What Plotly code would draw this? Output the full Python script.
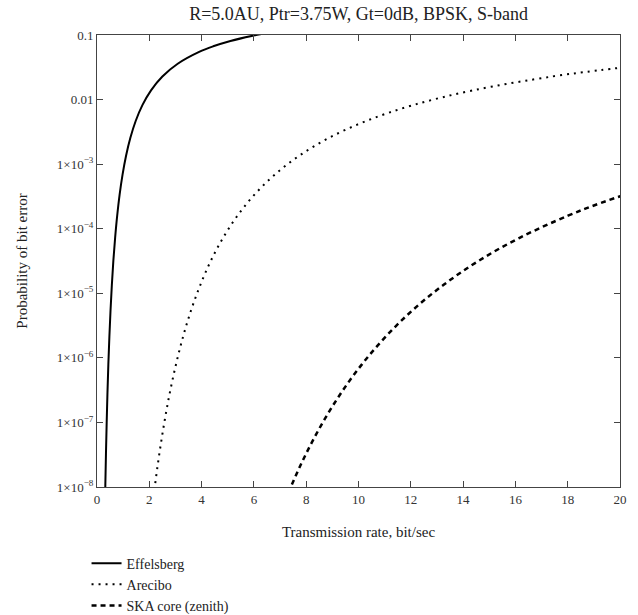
import plotly.graph_objects as go

# Effelsberg
eff_rate = [0.297, 0.319, 0.343, 0.370, 0.400, 0.434, 0.473, 0.517, 0.567, 0.625, 0.693, 0.772,
            0.865, 0.977, 1.111, 1.276, 1.479, 1.736, 2.066, 2.5, 3.086, 3.906, 4.444, 5.102,
            5.917, 6.4]
eff_pb = [3.32e-9, 1.07e-8, 3.33e-8, 9.96e-8, 2.87e-7, 7.93e-7, 2.11e-6, 5.41e-6, 1.33e-5,
          3.17e-5, 7.23e-5, 1.59e-4, 3.37e-4, 6.87e-4, 1.35e-3, 2.56e-3, 4.66e-3, 8.20e-3,
          1.39e-2, 2.275e-2, 3.59e-2, 5.48e-2, 6.68e-2, 8.08e-2, 9.68e-2, 0.1056]

# Arecibo
are_rate = [2.069, 2.219, 2.387, 2.574, 2.784, 3.021, 3.289, 3.595, 3.946, 4.35, 4.820, 5.370,
            6.021, 6.797, 7.733, 8.878, 10.296, 12.083, 14.380, 17.4, 19.28, 20.12]
are_pb = [3.32e-9, 1.07e-8, 3.33e-8, 9.96e-8, 2.87e-7, 7.93e-7, 2.11e-6, 5.41e-6, 1.33e-5,
          3.17e-5, 7.23e-5, 1.59e-4, 3.37e-4, 6.87e-4, 1.35e-3, 2.56e-3, 4.66e-3, 8.20e-3,
          1.39e-2, 2.275e-2, 2.87e-2, 3.14e-2]

# SKA core (zenith)
ska_rate = [6.938, 7.443, 8.004, 8.632, 9.336, 10.130, 11.030, 12.056, 13.231, 14.588, 16.163,
            18.009, 19.053, 20.190]
ska_pb = [3.32e-9, 1.07e-8, 3.33e-8, 9.96e-8, 2.87e-7, 7.93e-7, 2.11e-6, 5.41e-6, 1.33e-5,
          3.17e-5, 7.23e-5, 1.59e-4, 2.33e-4, 3.37e-4]

x_ticks = [0, 2, 4, 6, 8, 10, 12, 14, 16, 18, 20]
y_tick_vals = [1e-1, 1e-2, 1e-3, 1e-4, 1e-5, 1e-6, 1e-7, 1e-8]
y_tick_labels = ["0.1", "0.01", "1×10<sup>−3</sup>", "1×10<sup>−4</sup>", "1×10<sup>−5</sup>",
                 "1×10<sup>−6</sup>", "1×10<sup>−7</sup>", "1×10<sup>−8</sup>"]

FONT = "Liberation Serif"

fig = go.Figure()
fig.add_trace(go.Scatter(x=eff_rate, y=eff_pb, mode="lines", name="Effelsberg",
                         line=dict(color="black", width=2, shape="spline")))
fig.add_trace(go.Scatter(x=are_rate, y=are_pb, mode="lines", name="Arecibo",
                         line=dict(color="black", width=2, dash="2px,5px", shape="spline")))
fig.add_trace(go.Scatter(x=ska_rate, y=ska_pb, mode="lines", name="SKA core (zenith)",
                         line=dict(color="black", width=2.5, dash="5px,4px", shape="spline")))

axis_common = dict(showline=True, linecolor="#444", linewidth=1, mirror="ticks",
                   ticks="inside", ticklen=6, tickcolor="#444", showgrid=False, zeroline=False,
                   automargin=False,
                   tickfont=dict(family=FONT, size=13, color="#333"))

fig.update_xaxes(range=[0, 20], tickvals=x_ticks, ticktext=[str(v) for v in x_ticks],
                 title=dict(text="Transmission rate, bit/sec", font=dict(family=FONT, size=15, color="#222"),
                            standoff=20),
                 **axis_common)
fig.update_yaxes(type="log", range=[-8, -1], tickvals=y_tick_vals, ticktext=y_tick_labels,
                 title=dict(text="Probability of bit error", font=dict(family=FONT, size=15, color="#222"),
                            standoff=25),
                 **axis_common)

fig.update_layout(
    width=638, height=615,
    margin=dict(l=97, r=18, t=35, b=128, autoexpand=False),
    paper_bgcolor="white", plot_bgcolor="white",
    font=dict(family=FONT),
    title=dict(text="R=5.0AU, Ptr=3.75W, Gt=0dB, BPSK, S-band", x=0.562, xanchor="center",
               y=0.977, yanchor="middle", font=dict(family=FONT, size=18, color="#222")),
    legend=dict(x=-0.02, y=-0.134, xanchor="left", yanchor="top",
                font=dict(family=FONT, size=14, color="#222"), itemwidth=30,
                bgcolor="rgba(0,0,0,0)", tracegroupgap=0),
    showlegend=True,
)

fig.write_html("out.html")
